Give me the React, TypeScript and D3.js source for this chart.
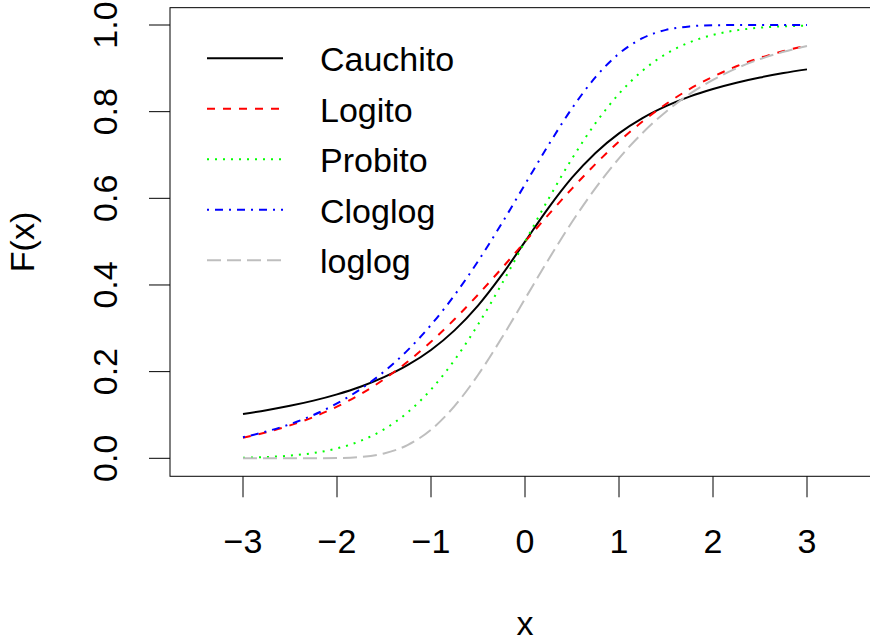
import React from "react";
import * as d3 from "d3";

// Evaluation grid and the five link CDFs sampled on it
const xs = [-3, -2.75, -2.5, -2.25, -2, -1.75, -1.5, -1.25, -1, -0.75, -0.5, -0.25, 0,
  0.25, 0.5, 0.75, 1, 1.25, 1.5, 1.75, 2, 2.25, 2.5, 2.75, 3];

const cauchito = [0.1024, 0.1110, 0.1211, 0.1331, 0.1476, 0.1652, 0.1872, 0.2148, 0.25,
  0.2952, 0.3524, 0.4220, 0.5, 0.5780, 0.6476, 0.7048, 0.75, 0.7852, 0.8128, 0.8348,
  0.8524, 0.8669, 0.8789, 0.8890, 0.8976];

const logito = [0.0474, 0.0601, 0.0759, 0.0953, 0.1192, 0.1480, 0.1824, 0.2227, 0.2689,
  0.3208, 0.3775, 0.4378, 0.5, 0.5622, 0.6225, 0.6792, 0.7311, 0.7773, 0.8176, 0.8520,
  0.8808, 0.9047, 0.9241, 0.9399, 0.9526];

const probito = [0.0013, 0.0030, 0.0062, 0.0122, 0.0228, 0.0401, 0.0668, 0.1056, 0.1587,
  0.2266, 0.3085, 0.4013, 0.5, 0.5987, 0.6915, 0.7734, 0.8413, 0.8944, 0.9332, 0.9599,
  0.9772, 0.9878, 0.9938, 0.9970, 0.9987];

const cloglog = [0.0486, 0.0619, 0.0788, 0.1000, 0.1266, 0.1595, 0.2000, 0.2491, 0.3078,
  0.3765, 0.4547, 0.5411, 0.6321, 0.7231, 0.8077, 0.8796, 0.9340, 0.9695, 0.9887, 0.9968,
  0.9994, 0.9999, 1.0, 1.0, 1.0];

const loglog = [0.0, 0.0, 0.0, 0.0001, 0.0006, 0.0032, 0.0113, 0.0305, 0.0660, 0.1204,
  0.1923, 0.2769, 0.3679, 0.4589, 0.5453, 0.6235, 0.6922, 0.7509, 0.8000, 0.8405, 0.8734,
  0.9000, 0.9212, 0.9381, 0.9514];

const seriesNames = ["Cauchito", "Logito", "Probito", "Cloglog", "loglog"];
const seriesValues = [cauchito, logito, probito, cloglog, loglog];
const seriesColors = ["#000000", "#FF0000", "#00FF00", "#0000FF", "#BEBEBE"];
const seriesDashes = ["none", "8,8", "2,6", "2,6,8,6", "14,6"];

const xTicks = [-3, -2, -1, 0, 1, 2, 3];
const yTicks = [0, 0.2, 0.4, 0.6, 0.8, 1.0];

const W = 870;
const H = 641;
const FONT = "'Liberation Sans', Arial, Helvetica, sans-serif";
const FS = 34;

export default function App() {
  const x = d3.scaleLinear().domain([-3, 3]).range([243, 807]);
  const y = d3.scaleLinear().domain([0, 1]).range([458.3, 25]);

  // plot region extends 4% beyond the data range on y, wider on x
  const box = { left: 170, right: 880, top: y(1.04), bottom: y(-0.0415) };

  const line = d3
    .line<number>()
    .x((_, i) => x(xs[i]))
    .y((d) => y(d))
    .curve(d3.curveMonotoneX);

  const fmtY = d3.format(".1f");
  const fmtX = d3.format("d");

  const legendX0 = 207;
  const legendX1 = 283;
  const legendY0 = 58.3;
  const legendStep = 50.5;

  return (
    <svg
      width={W}
      height={H}
      style={{ position: "absolute", left: 0, top: 0, background: "#fff" }}
      fontFamily={FONT}
    >
      <rect x={0} y={0} width={W} height={H} fill="#fff" />

      {/* curves */}
      <g fill="none" strokeWidth={2}>
        {seriesValues.map((vals, k) => (
          <path
            key={seriesNames[k]}
            d={line(vals) || ""}
            stroke={seriesColors[k]}
            strokeDasharray={seriesDashes[k]}
          />
        ))}
      </g>

      {/* plot box */}
      <rect
        x={box.left}
        y={box.top}
        width={box.right - box.left}
        height={box.bottom - box.top}
        fill="none"
        stroke="#000"
        strokeWidth={1}
      />

      {/* x axis */}
      <g stroke="#000" strokeWidth={1}>
        {xTicks.map((t) => (
          <line key={t} x1={x(t)} x2={x(t)} y1={box.bottom} y2={box.bottom + 21} />
        ))}
      </g>
      <g fontSize={FS} textAnchor="middle" fill="#000">
        {xTicks.map((t) => (
          <text key={t} x={x(t)} y={553}>
            {fmtX(t)}
          </text>
        ))}
      </g>

      {/* y axis */}
      <g stroke="#000" strokeWidth={1}>
        {yTicks.map((t) => (
          <line key={t} x1={box.left - 21} x2={box.left} y1={y(t)} y2={y(t)} />
        ))}
      </g>
      <g fontSize={FS} textAnchor="middle" fill="#000">
        {yTicks.map((t) => (
          <text key={t} transform={`translate(116.5,${y(t)}) rotate(-90)`}>
            {fmtY(t)}
          </text>
        ))}
      </g>

      {/* axis titles */}
      <text x={525} y={635} fontSize={FS} textAnchor="middle">
        x
      </text>
      <text
        transform={`translate(34,${(box.top + box.bottom) / 2}) rotate(-90)`}
        fontSize={FS}
        textAnchor="middle"
      >
        F(x)
      </text>

      {/* legend */}
      {seriesNames.map((name, k) => {
        const ly = legendY0 + k * legendStep;
        return (
          <g key={name}>
            <line
              x1={legendX0}
              x2={legendX1}
              y1={ly}
              y2={ly}
              stroke={seriesColors[k]}
              strokeWidth={2}
              strokeDasharray={seriesDashes[k]}
            />
            <text x={320} y={ly + 13} fontSize={FS} fill="#000">
              {name}
            </text>
          </g>
        );
      })}
    </svg>
  );
}
